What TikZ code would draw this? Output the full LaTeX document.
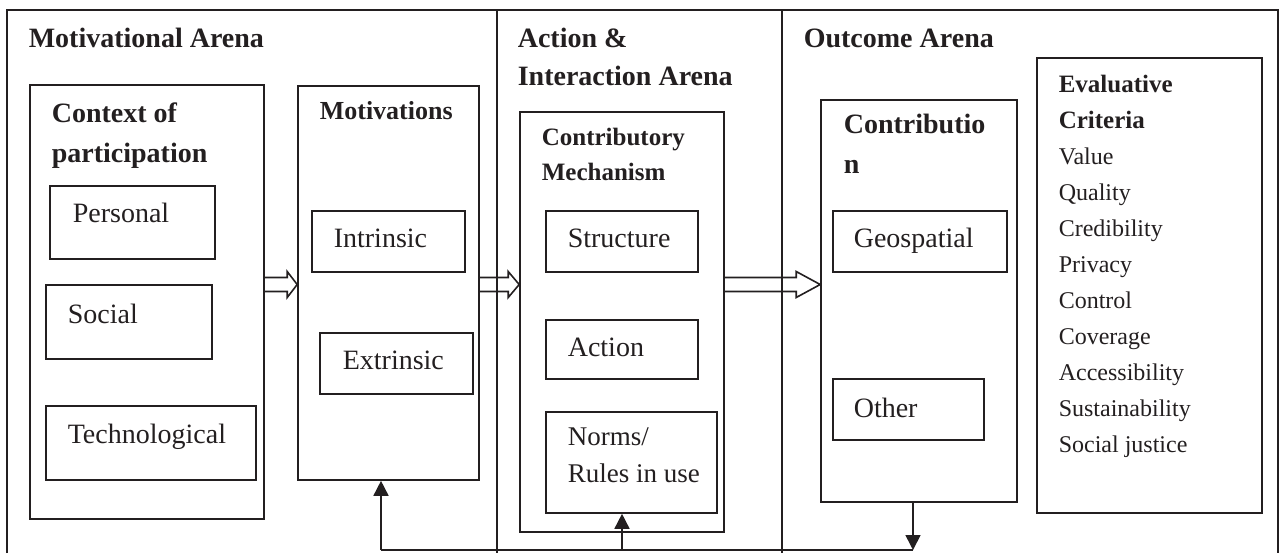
\documentclass[tikz,border=0pt]{standalone}
\usepackage{fontspec}
\setmainfont{Liberation Serif}
\usetikzlibrary{arrows.meta,calc,fit}
\definecolor{ink}{HTML}{231F20}

% hollow block arrow between two boxes: from, to, head length
\newcommand{\hollowarrow}[3]{%
  \draw ($(#1.east |- ay)+(0,-7)$) -- ($(#2.west |- ay)+(-#3,-7)$)
    -- ($(#2.west |- ay)+(-#3,-13)$) -- (#2.west |- ay)
    -- ($(#2.west |- ay)+(-#3,13)$) -- ($(#2.west |- ay)+(-#3,7)$)
    -- ($(#1.east |- ay)+(0,7)$);}

\begin{document}
\begin{tikzpicture}[x=0.5pt,y=-0.5pt,line width=0.8pt,draw=ink,text=ink,
    box/.style={draw,inner sep=0pt},
    txt/.style={anchor=base west,inner sep=0pt,font=\fontsize{14}{20}\selectfont},
    head/.style={txt,align=left,font=\bfseries\fontsize{14}{20}\selectfont},
    fb/.style={-{Triangle[width=7.5pt,length=7.5pt]}}]
	\useasboundingbox (0,0) rectangle (1284,553);

	% arenas (multi-line texts sit on their last baseline)
	\draw (7,553) -- (7,10) -- (1278,10) -- (1278,553);
	\draw (497,10) -- (497,553);
	\draw (782,10) -- (782,553);
	\node[head] (motArena) at (28,47) {Motivational Arena};
	\node[head,font=\bfseries\fontsize{14}{19}\selectfont] (actArena) at (517,85) {Action \&\\Interaction Arena};
	\node[head] (outArena) at (803,47) {Outcome Arena};

	% motivational arena
	\node[box,fit={(30,85) (264,519)}] (context) {};
	\node[head] (contextT) at (51,162) {Context of\\participation};
	\node[box,fit={(50,186) (215,259)}] (personal) {};
	\node[txt] (personalT) at (72,222) {Personal};
	\node[box,fit={(46,285) (212,359)}] (social) {};
	\node[txt] (socialT) at (67,323) {Social};
	\node[box,fit={(46,406) (256,480)}] (techno) {};
	\node[txt] (technoT) at (67,443) {Technological};

	\node[box,fit={(298,86) (479,480)}] (motiv) {};
	\node[head,font=\bfseries\fontsize{13}{18}\selectfont] (motivT) at (319,119) {Motivations};
	\node[box,fit={(312,211) (465,272)}] (intrinsic) {};
	\node[txt] (intrinsicT) at (333,247) {Intrinsic};
	\node[box,fit={(320,333) (473,394)}] (extrinsic) {};
	\node[txt] (extrinsicT) at (342,369) {Extrinsic};

	% action & interaction arena
	\node[box,fit={(520,112) (724,532)}] (mech) {};
	\node[head,font=\bfseries\fontsize{12.5}{17.5}\selectfont] (mechT) at (541,180) {Contributory\\Mechanism};
	\node[box,fit={(546,211) (698,272)}] (structure) {};
	\node[txt] (structureT) at (567,247) {Structure};
	\node[box,fit={(546,320) (698,379)}] (action) {};
	\node[txt] (actionT) at (567,356) {Action};
	\node[box,fit={(546,412) (717,513)}] (norms) {};
	\node[txt,align=left,font=\fontsize{13.5}{18.5}\selectfont] (normsT) at (567,482) {Norms/\\Rules in use};

	% outcome arena
	\node[box,fit={(821,100) (1017,502)}] (contrib) {};
	\node[head] (contribT) at (843,173) {Contributio\\n};
	\node[box,fit={(833,211) (1007,272)}] (geo) {};
	\node[txt] (geoT) at (853,247) {Geospatial};
	\node[box,fit={(833,379) (984,440)}] (other) {};
	\node[txt] (otherT) at (853,417) {Other};

	\node[box,fit={(1037,58) (1262,513)}] (criteria) {};
	\node[txt,align=left,font=\fontsize{12}{18}\selectfont] (criteriaT) at (1058,452)
	{\textbf{\fontsize{12.5}{18}\selectfont Evaluative}\\\textbf{\fontsize{12.5}{18}\selectfont Criteria}\\Value\\Quality\\Credibility\\Privacy\\Control\\Coverage\\Accessibility\\Sustainability\\Social justice};

	% flow between arenas
	\coordinate (ay) at (0,284.5);
	\hollowarrow{context}{motiv}{10}
	\hollowarrow{motiv}{mech}{11}
	\hollowarrow{mech}{contrib}{24}

	% feedback
	\coordinate (fbR) at (913,550);
	\coordinate (fbM) at (622,550);
	\coordinate (fbL) at (381,550);
	\draw[fb] (contrib.south -| fbR) -- (fbR);
	\draw (fbR) -- (fbL);
	\draw[fb] (fbL) -- (motiv.south -| fbL);
	\draw[fb] (fbM) -- (norms.south -| fbM);
\end{tikzpicture}
\end{document}
